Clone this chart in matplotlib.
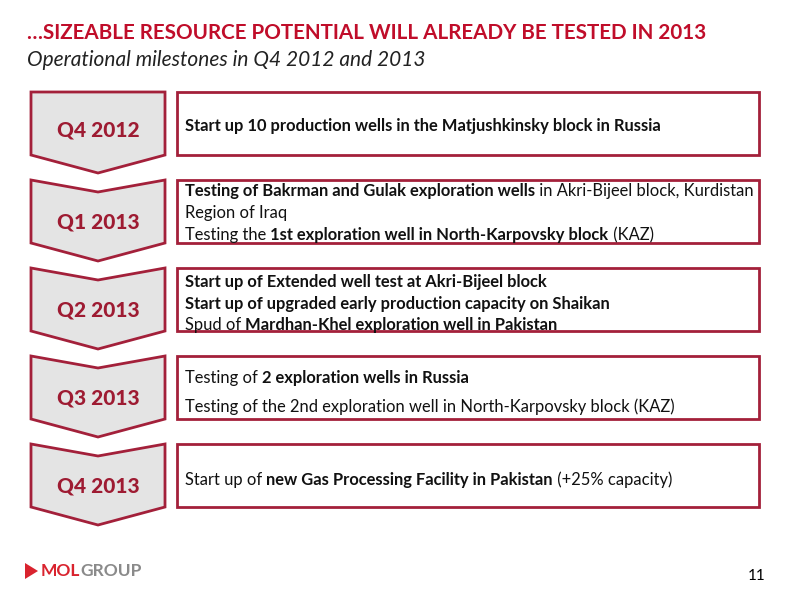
import matplotlib; matplotlib.use("Agg")
import matplotlib.pyplot as plt
from matplotlib.patches import Polygon, Rectangle

TITLE = "…SIZEABLE RESOURCE POTENTIAL WILL ALREADY BE TESTED IN 2013"
SUBTITLE = "Operational milestones in Q4 2012 and 2013"
quarters = ["Q4 2012", "Q1 2013", "Q2 2013", "Q3 2013", "Q4 2013"]
# each milestone: list of lines, each line a list of (text, bold) segments
milestones = [
    [[("Start up 10 production wells in the Matjushkinsky block in Russia", True)]],
    [[("Testing of Bakrman and Gulak exploration wells", True), (" in Akri-Bijeel block, Kurdistan", False)],
     [("Region of Iraq", False)],
     [("Testing the ", False), ("1st exploration well in North-Karpovsky block", True), (" (KAZ)", False)]],
    [[("Start up of Extended well test at Akri-Bijeel block", True)],
     [("Start up of upgraded early production capacity on Shaikan", True)],
     [("Spud of ", False), ("Mardhan-Khel exploration well in Pakistan", True)]],
    [[("Testing of ", False), ("2 exploration wells in Russia", True)],
     [("Testing of the 2nd exploration well in North-Karpovsky block (KAZ)", False)]],
    [[("Start up of ", False), ("new Gas Processing Facility in Pakistan", True), (" (+25% capacity)", False)]],
]
line_y = [[126], [191, 213, 235], [282, 304, 325], [378, 407], [480]]

RED = "#c00d2a"; DARK = "#9e1b32"; EDGE = "#a3203a"; FILL = "#e4e4e4"
FONT = ["Lato", "DejaVu Sans"]

fig = plt.figure(figsize=(8, 6), dpi=100)
ax = fig.add_axes([0, 0, 1, 1]); ax.set_xlim(0, 800); ax.set_ylim(600, 0); ax.axis("off")

ax.text(27, 33, TITLE, color=RED, fontsize=14.9, weight="bold", family=FONT, va="center")
ax.text(27, 60, SUBTITLE, color="#222222", fontsize=15, style="italic", family=FONT, va="center")

for i, q in enumerate(quarters):
    t = 92 + 88 * i
    notch = 0 if i == 0 else 12
    pts = [(31, t), (98, t + notch), (165, t), (165, t + 63), (98, t + 81), (31, t + 63)]
    ax.add_patch(Polygon(pts, closed=True, fc=FILL, ec=EDGE, lw=2))
    ax.text(98, t + 38 + notch / 3, q, color=DARK, fontsize=15, weight="black", family=FONT,
            ha="center", va="center")
    ax.add_patch(Rectangle((177, t), 582, 63, fc="white", ec=EDGE, lw=2))

fig.canvas.draw()
r = fig.canvas.get_renderer()
inv = ax.transData.inverted()
for lines, ys in zip(milestones, line_y):
    for segs, y in zip(lines, ys):
        x = 185
        for s, b in segs:
            tx = ax.text(x, y, s, fontsize=11.9, weight="bold" if b else "normal", family=FONT,
                         va="center", color="#111111")
            bb = tx.get_window_extent(r)
            x = inv.transform((bb.x1, bb.y0))[0]

# logo
ax.add_patch(Polygon([(25, 563), (38, 571), (25, 579)], closed=True, fc="#d9232e", ec="none"))
t1 = ax.text(41, 571, "MOL", color="#d9232e", fontsize=12.5, weight="bold", family=FONT, va="center")
bb = t1.get_window_extent(r)
ax.text(inv.transform((bb.x1, bb.y0))[0], 571, "GROUP", color="#8a8a8a", fontsize=12.5,
        weight="bold", family=FONT, va="center")
ax.text(766, 576, "11", fontsize=11, family=FONT, ha="right", va="center")

fig.savefig("out.png", dpi=100)
